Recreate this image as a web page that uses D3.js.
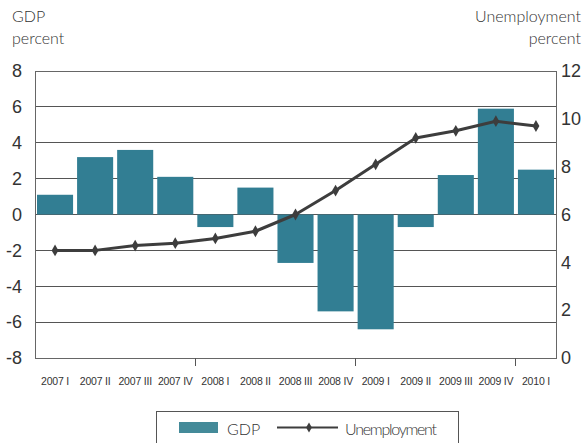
<!DOCTYPE html>
<html>
<head>
<meta charset="utf-8">
<script src="https://cdn.jsdelivr.net/npm/d3@7/dist/d3.min.js"></script>
<style>
  html, body { margin: 0; padding: 0; background: #fff; }
  svg { display: block; font-family: Lato, "Open Sans", sans-serif; font-weight: 300; }
</style>
</head>
<body>
<svg id="chart" width="584" height="443"></svg>
<script>
// Quarterly periods
const categories = ["2007 I", "2007 II", "2007 III", "2007 IV", "2008 I", "2008 II", "2008 III",
                    "2008 IV", "2009 I", "2009 II", "2009 III", "2009 IV", "2010 I"];
// GDP growth, percent (left axis)
const gdp = [1.1, 3.2, 3.6, 2.1, -0.7, 1.5, -2.7, -5.4, -6.4, -0.7, 2.2, 5.9, 2.5];
// Unemployment rate, percent (right axis)
const unemployment = [4.5, 4.5, 4.7, 4.8, 5.0, 5.3, 6.0, 7.0, 8.1, 9.2, 9.5, 9.9, 9.7];
// Axis ticks
const leftTicks = [-8, -6, -4, -2, 0, 2, 4, 6, 8];
const rightTicks = [0, 2, 4, 6, 8, 10, 12];
// Year boundaries marked on the bottom axis
const yearStarts = ["2008 I", "2009 I", "2010 I"];

const svg = d3.select("#chart");
const plot = { left: 35, right: 556, top: 71, bottom: 358 };
const textColor = "#333";

const x = d3.scaleBand().domain(categories)
  .range([plot.left, plot.right]).paddingInner(0.1).paddingOuter(0.05);
const yL = d3.scaleLinear().domain([-8, 8]).range([plot.bottom, plot.top]);
const yR = d3.scaleLinear().domain([0, 12]).range([plot.bottom, plot.top]);

// Horizontal gridlines
svg.append("g").selectAll("line").data(leftTicks).join("line")
  .attr("x1", plot.left).attr("x2", plot.right)
  .attr("y1", d => yL(d)).attr("y2", d => yL(d))
  .attr("stroke", "#555").attr("stroke-width", 1).attr("shape-rendering", "crispEdges");

// Bars
svg.append("g").selectAll("rect").data(gdp).join("rect")
  .attr("x", (d, i) => x(categories[i]))
  .attr("width", x.bandwidth())
  .attr("y", d => yL(Math.max(0, d)))
  .attr("height", d => Math.abs(yL(d) - yL(0)))
  .attr("fill", "#327e93");

// Frame
svg.append("rect")
  .attr("x", plot.left).attr("y", plot.top)
  .attr("width", plot.right - plot.left).attr("height", plot.bottom - plot.top)
  .attr("fill", "none").attr("stroke", "#666").attr("stroke-width", 1)
  .attr("shape-rendering", "crispEdges");

// Year-boundary ticks on the bottom axis
const halfGap = x.step() * x.paddingInner() / 2;
svg.append("g").selectAll("line").data(yearStarts).join("line")
  .attr("x1", d => x(d) - halfGap).attr("x2", d => x(d) - halfGap)
  .attr("y1", plot.bottom).attr("y2", plot.bottom + 8)
  .attr("stroke", "#555").attr("stroke-width", 1).attr("shape-rendering", "crispEdges");

// Unemployment line with diamond markers
const line = d3.line()
  .x((d, i) => x(categories[i]) + x.bandwidth() / 2)
  .y(d => yR(d));
svg.append("path").datum(unemployment)
  .attr("d", line).attr("fill", "none")
  .attr("stroke", "#3d3d3d").attr("stroke-width", 3).attr("stroke-linejoin", "round");
svg.append("g").selectAll("path").data(unemployment).join("path")
  .attr("d", d3.symbol(d3.symbolDiamond, 40))
  .attr("transform", (d, i) => `translate(${x(categories[i]) + x.bandwidth() / 2},${yR(d)})`)
  .attr("fill", "#3d3d3d");

// Left axis labels (plain hyphen for negatives)
const axL = svg.append("g").attr("transform", `translate(${plot.left - 13},0)`)
  .call(d3.axisLeft(yL).tickValues(leftTicks).tickSize(0).tickPadding(0).tickFormat(d => String(d)));
axL.select(".domain").remove();
axL.selectAll("text").attr("font-size", 18).attr("fill", textColor)
  .attr("font-family", null);

// Right axis labels
const axR = svg.append("g").attr("transform", `translate(${plot.right + 5},0)`)
  .call(d3.axisRight(yR).tickValues(rightTicks).tickSize(0).tickPadding(0));
axR.select(".domain").remove();
axR.selectAll("text").attr("font-size", 18).attr("fill", textColor)
  .attr("font-family", null);

// Category labels
const axB = svg.append("g").attr("transform", `translate(0,${plot.bottom + 20})`)
  .call(d3.axisBottom(x).tickSize(0).tickPadding(0));
axB.select(".domain").remove();
axB.selectAll("text").attr("font-size", 10.5).attr("fill", textColor)
  .attr("font-family", null).attr("letter-spacing", -0.2);

// Axis titles
const titles = [
  { t: "GDP", x: 12, y: 22, a: "start" },
  { t: "percent", x: 12, y: 44, a: "start" },
  { t: "Unemployment", x: 581, y: 22, a: "end" },
  { t: "percent", x: 581, y: 44, a: "end" }
];
svg.append("g").selectAll("text").data(titles).join("text")
  .attr("x", d => d.x).attr("y", d => d.y).attr("text-anchor", d => d.a)
  .attr("font-size", 16).attr("fill", textColor).text(d => d.t);

// Legend
const lg = svg.append("g");
lg.append("rect").attr("x", 156.5).attr("y", 411.5).attr("width", 302).attr("height", 40)
  .attr("fill", "#fff").attr("stroke", "#555").attr("stroke-width", 1);
lg.append("rect").attr("x", 179).attr("y", 422).attr("width", 39).attr("height", 11)
  .attr("fill", "#448a99");
lg.append("text").attr("x", 227).attr("y", 435).attr("font-size", 16).attr("fill", textColor).text("GDP");
lg.append("line").attr("x1", 277).attr("x2", 338).attr("y1", 427.5).attr("y2", 427.5)
  .attr("stroke", "#3d3d3d").attr("stroke-width", 2);
lg.append("path").attr("d", d3.symbol(d3.symbolDiamond, 30))
  .attr("transform", "translate(309,427.5)").attr("fill", "#3d3d3d");
lg.append("text").attr("x", 345).attr("y", 435).attr("font-size", 16).attr("fill", textColor)
  .attr("textLength", 92).attr("lengthAdjust", "spacing").text("Unemployment");
</script>
</body>
</html>
